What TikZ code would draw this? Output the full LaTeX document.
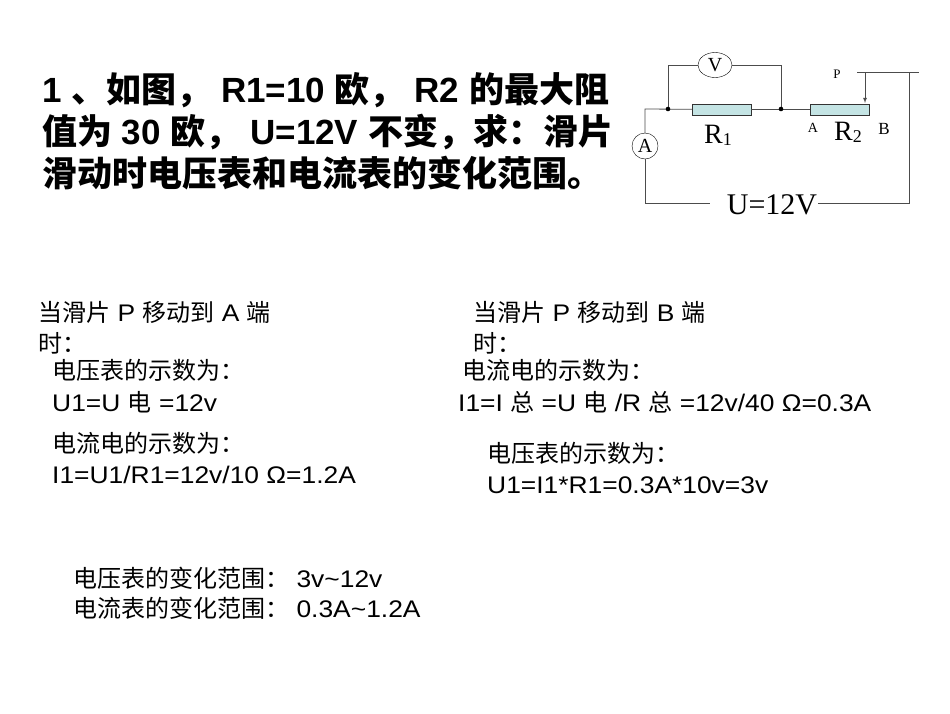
\documentclass[tikz,border=0pt]{standalone}
\usepackage{fontspec}
\usetikzlibrary{shapes.geometric}
\setmainfont{Liberation Sans}[FakeStretch=1.1]
\newfontfamily\plain{Liberation Sans}
\newfontfamily\cjk{Noto Sans CJK SC}
\newfontfamily\serif{Liberation Serif}
\definecolor{resfill}{RGB}{196,228,228}
\begin{document}
\begin{tikzpicture}[x=1pt,y=-1pt,
  txt/.style={anchor=west,inner sep=0pt,font=\fontsize{24}{26}\selectfont},
  ttl/.style={anchor=west,inner sep=0pt,font=\plain\fontsize{35}{37}\selectfont\bfseries},
  wire/.style={draw=black!70,line width=0.8pt},
  res/.style={draw=black!80,fill=resfill,minimum width=59pt,minimum height=11pt,inner sep=0pt},
  mtr/.style={draw=black,fill=white,ellipse,inner sep=0pt},
  lab/.style={inner sep=0pt,font=\serif}]
\fill[white] (0,0) rectangle (950,713);
% title
\node[ttl] (t1) at (42,90) {1 {\cjk 、如图，} R1=10 {\cjk 欧，} R2 {\cjk 的最大阻}};
\node[ttl] (t2) at (42,132) {{\cjk 值为} 30 {\cjk 欧，} U=12V {\cjk 不变，求：滑片}};
\node[ttl] (t3) at (42,173) {{\cjk 滑动时电压表和电流表的变化范围。}};
% circuit
\coordinate (tl) at (645,109); \coordinate (bl) at (645,203);
\coordinate (br) at (909,203); \coordinate (tr) at (909,72);
\coordinate (j1) at (668,109); \coordinate (j2) at (781,109);
\node[res] (r1) at (721.5,109.5) {};
\node[res] (r2) at (839.5,109.5) {};
\node[mtr,minimum width=34pt,minimum height=25pt] (V) at (715,65) {};
\node[lab,font=\serif\fontsize{20}{20}\selectfont] at (V) {V};
\node[draw,circle,minimum size=26pt,inner sep=0pt,fill=white] (A) at (645,146) {};
\node[lab,font=\serif\fontsize{20}{20}\selectfont] at (A) {A};
\node[lab,font=\serif\fontsize{30}{30}\selectfont] (U) at (772,205) {U=12V};
\draw[wire] (A) -- (tl) -- (r1) -- (r2);
\draw[wire] (A) -- (bl) -- (710,203);
\draw[wire] (818,203) -- (br) -- (tr) -- (919,72);
\coordinate (pt) at (857,72); \coordinate (pa) at (865,72);
\draw[wire] (pt) -- (tr);
\draw[wire,-latex] (pa) -- (865,103);
\draw[wire] (j1) |- (V) -| (j2);
\fill (j1) circle (2.3pt); \fill (j2) circle (2.3pt);
\node[lab,font=\serif\fontsize{28}{28}\selectfont] at (718,135) {R\raisebox{-2pt}{\fontsize{18}{18}\selectfont 1}};
\node[lab,font=\serif\fontsize{28}{28}\selectfont] at (848,132) {R\raisebox{-2pt}{\fontsize{18}{18}\selectfont 2}};
\node[lab,font=\serif\fontsize{14}{14}\selectfont] at (813,128) {A};
\node[lab,font=\serif\fontsize{17}{17}\selectfont] at (884,129) {B};
\node[lab,font=\serif\fontsize{13}{13}\selectfont] at (837,74) {P};
% left column
\node[txt] (a1) at (38,312) {{\cjk 当滑片} P {\cjk 移动到} A {\cjk 端}};
\node[txt] (a2) at (38,343) {{\cjk 时：}};
\node[txt] (a3) at (52,370) {{\cjk 电压表的示数为：}};
\node[txt] (a4) at (52,402) {U1=U {\cjk 电} =12v};
\node[txt] (a5) at (52,443) {{\cjk 电流电的示数为：}};
\node[txt] (a6) at (52,475) {I1=U1/R1=12v/10 Ω=1.2A};
% right column
\node[txt] (b1) at (473,312) {{\cjk 当滑片} P {\cjk 移动到} B {\cjk 端}};
\node[txt] (b2) at (473,343) {{\cjk 时：}};
\node[txt] (b3) at (462,370) {{\cjk 电流电的示数为：}};
\node[txt] (b4) at (458,402) {I1=I {\cjk 总} =U {\cjk 电} /R {\cjk 总} =12v/40 Ω=0.3A};
\node[txt] (b5) at (487,453) {{\cjk 电压表的示数为：}};
\node[txt] (b6) at (487,485) {U1=I1*R1=0.3A*10v=3v};
% bottom
\node[txt] (c1) at (73,578) {{\cjk 电压表的变化范围：} 3v\textasciitilde12v};
\node[txt] (c2) at (73,608) {{\cjk 电流表的变化范围：} 0.3A\textasciitilde1.2A};
\end{tikzpicture}
\end{document}
